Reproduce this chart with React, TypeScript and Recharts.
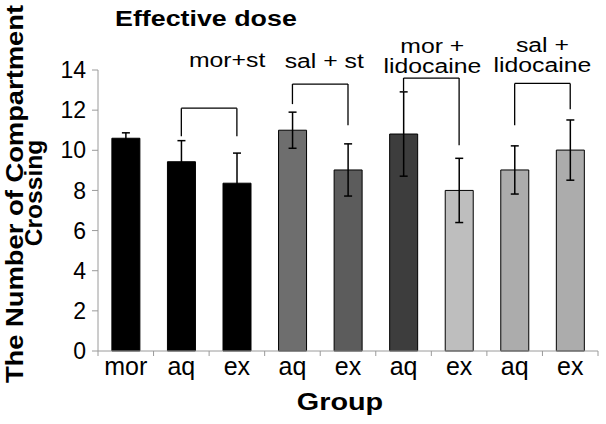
import React from 'react';
import { BarChart, Bar, XAxis, YAxis, ErrorBar, Cell, ReferenceLine } from 'recharts';

const groupKeys = ['mor', 'aq1', 'ex1', 'aq2', 'ex2', 'aq3', 'ex3', 'aq4', 'ex4'];
const groupLabels = ['mor', 'aq', 'ex', 'aq', 'ex', 'aq', 'ex', 'aq', 'ex'];
const crossings = [10.6, 9.43, 8.36, 11.0, 9.02, 10.81, 8.0, 9.02, 10.01];
const crossingErr = [0.27, 1.05, 1.5, 0.9, 1.3, 2.1, 1.6, 1.2, 1.5];
const yTicks = [0, 2, 4, 6, 8, 10, 12, 14];

// comparison brackets above the bars
const bracketNames = [['mor+st'], ['sal + st'], ['mor +', 'lidocaine'], ['sal +', 'lidocaine']];
const bracketFrom = ['aq1', 'aq2', 'aq3', 'aq4'];
const bracketTo = ['ex1', 'ex2', 'ex3', 'ex4'];
const bracketTop = [12.1, 13.3, 13.6, 13.33];
const bracketFromEnd = [10.7, 12.3, 12.95, 11.25];
const bracketToEnd = [10.7, 11.25, 10.25, 12.05];

const barFills = ['#000000', '#000000', '#000000', '#6e6e6e', '#5c5c5c', '#3d3d3d', '#bebebe', '#acacac', '#acacac'];
const labelNudge = [
  { dx: 18, dy: -41 },
  { dx: 4, dy: -16 },
  { dx: 1, dy: -25 },
  { dx: 0, dy: -31 },
];

const FONT = '"Liberation Sans", Arial, sans-serif';
const AXIS = '#9a9a9a';

const data = groupKeys.map((k, i) => ({ key: k, value: crossings[i], err: crossingErr[i] }));

function WideText({ x, y, size, bold = false, rotate = 0, stretch = 1.18, anchor = 'middle', children }: any) {
  return (
    <text
      transform={`translate(${x},${y}) rotate(${rotate}) scale(${stretch},1)`}
      textAnchor={anchor}
      fontSize={size}
      fontWeight={bold ? 'bold' : 'normal'}
      fontFamily={FONT}
      fill="#000"
    >
      {children}
    </text>
  );
}

function GroupTick(props: any) {
  const { x, y, payload, index, visibleTicksCount } = props;
  const half = payload && payload.offset ? payload.offset : 27.8;
  return (
    <g>
      <line x1={x - half} x2={x - half} y1={y} y2={y + 5} stroke={AXIS} />
      {index === visibleTicksCount - 1 && (
        <line x1={x + half} x2={x + half} y1={y} y2={y + 5} stroke={AXIS} />
      )}
      <text x={x} y={y + 24} textAnchor="middle" fontSize={25} fontFamily={FONT} fill="#000">
        {groupLabels[index]}
      </text>
    </g>
  );
}

const bracketLabel = (i: number) => (props: any) => {
  const vb = props.viewBox || { x: 0, y: 0, width: 0 };
  const cx = vb.x + vb.width / 2 + labelNudge[i].dx;
  const base = vb.y + labelNudge[i].dy;
  return (
    <g>
      {bracketNames[i].map((s, j) => (
        <WideText key={j} x={cx} y={base + j * 19.5} size={21}>
          {s}
        </WideText>
      ))}
    </g>
  );
};

const yLabel = () => (
  <g>
    <WideText x={115} y={26} size={22} bold anchor="start" stretch={1.22}>
      Effective dose
    </WideText>
    <WideText x={23} y={194} size={24} bold rotate={-90} stretch={1.14}>
      The Number of Compartment
    </WideText>
    <WideText x={42} y={193} size={23} bold rotate={-90} stretch={1.07}>
      Crossing
    </WideText>
  </g>
);

const xLabel = (props: any) => {
  const vb = props.viewBox || { x: 98, y: 351, width: 500 };
  return (
    <WideText x={vb.x + vb.width / 2 - 8} y={vb.y + 59} size={24} bold stretch={1.2}>
      Group
    </WideText>
  );
};

export default function App() {
  return (
    <div style={{ position: 'absolute', left: 0, top: 0, width: 606, height: 424, background: '#fff' }}>
      <BarChart
        width={606}
        height={424}
        data={data}
        margin={{ top: 70, right: 8, left: 0, bottom: 0 }}
        barCategoryGap="25%"
      >
        <XAxis
          dataKey="key"
          height={73}
          tickSize={0}
          tickMargin={0}
          tickLine={false}
          axisLine={{ stroke: AXIS }}
          tick={<GroupTick />}
          interval={0}
          label={xLabel}
        />
        <YAxis
          width={98}
          domain={[0, 14]}
          ticks={yTicks}
          interval={0}
          tickSize={6}
          tickMargin={6}
          tickLine={{ stroke: AXIS }}
          axisLine={{ stroke: AXIS }}
          tick={{ fontSize: 23, fill: '#000', fontFamily: FONT }}
          label={yLabel}
        />
        <Bar dataKey="value" stroke="#000" strokeWidth={1} isAnimationActive={false}>
          {data.map((d, i) => (
            <Cell key={d.key} fill={barFills[i]} />
          ))}
          <ErrorBar dataKey="err" width={4} stroke="#000" strokeWidth={1.5} direction="y" isAnimationActive={false} />
        </Bar>
        {bracketNames.map((_, i) => (
          <React.Fragment key={i}>
            <ReferenceLine
              segment={[{ x: bracketFrom[i], y: bracketTop[i] }, { x: bracketTo[i], y: bracketTop[i] }]}
              stroke="#000"
              strokeWidth={1.3}
              label={bracketLabel(i)}
            />
            <ReferenceLine
              segment={[{ x: bracketFrom[i], y: bracketTop[i] }, { x: bracketFrom[i], y: bracketFromEnd[i] }]}
              stroke="#000"
              strokeWidth={1.3}
            />
            <ReferenceLine
              segment={[{ x: bracketTo[i], y: bracketTop[i] }, { x: bracketTo[i], y: bracketToEnd[i] }]}
              stroke="#000"
              strokeWidth={1.3}
            />
          </React.Fragment>
        ))}
      </BarChart>
    </div>
  );
}
